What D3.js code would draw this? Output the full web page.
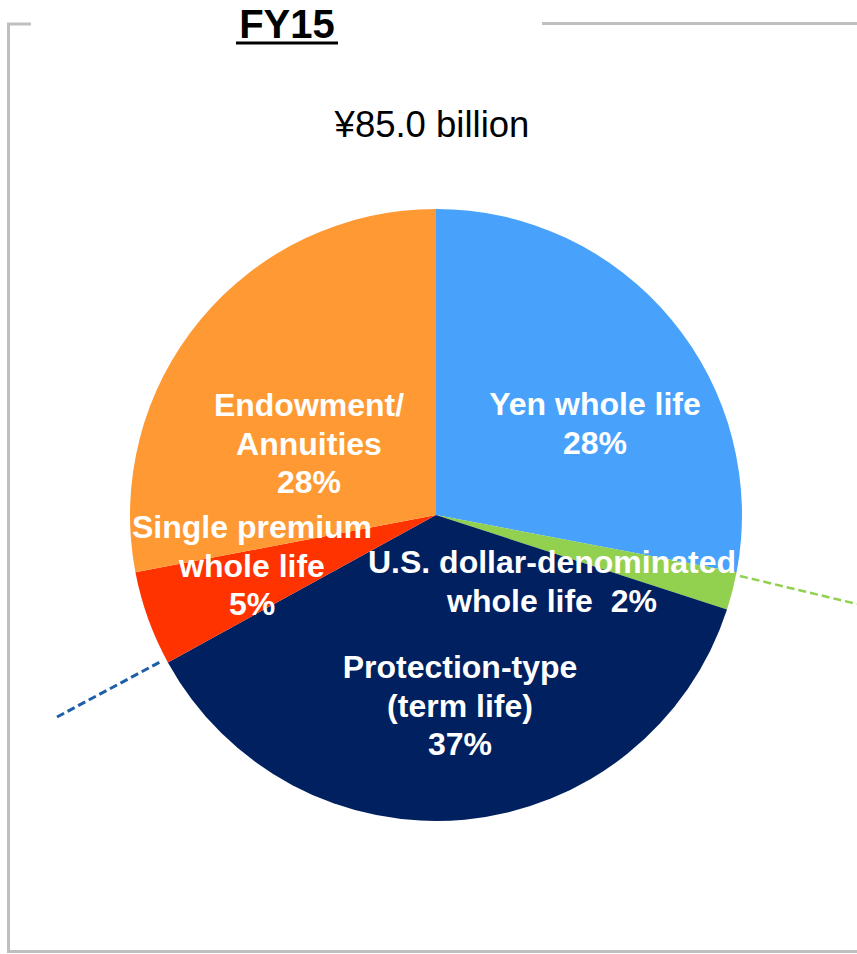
<!DOCTYPE html>
<html>
<head>
<meta charset="utf-8">
<script src="https://cdn.jsdelivr.net/npm/d3@7"></script>
<style>
  html, body { margin: 0; padding: 0; background: #fff; }
  svg { display: block; font-family: "Liberation Sans", Arial, sans-serif; }
</style>
</head>
<body>
<svg id="chart" width="857" height="954"></svg>
<script>
// Product mix of new business, FY15 (share of ¥85.0 billion)
const categories = ["Yen whole life", "U.S. dollar-denominated whole life", "Protection-type (term life)", "Single premium whole life", "Endowment/Annuities"];
const shares = [28, 2, 37, 5, 28];
const colors = ["#48a2fc", "#92d050", "#002060", "#ff3300", "#ff9933"];
const labelLines = [
  ["Yen whole life", "28%"],
  ["U.S. dollar-denominated", "whole life  2%"],
  ["Protection-type", "(term life)", "37%"],
  ["Single premium", "whole life", "5%"],
  ["Endowment/", "Annuities", "28%"]
];
// label anchor (first line baseline) relative to the pie centre
const labelPos = [[159, -100], [116, 58], [24, 163], [-184, 23], [-127, -99]];
const title = "FY15";
const subtitle = "¥85.0 billion";

const svg = d3.select("#chart");
const cx = 436, cy = 515, r = 306;

// frame
const frame = svg.append("g").attr("stroke", "#bfbfbf").attr("stroke-width", 3).attr("fill", "none");
frame.append("path").attr("d", "M31,24 H8.5 V951.5 H857");
frame.append("path").attr("d", "M542,23.5 H857");

// title
svg.append("text").attr("x", 287).attr("y", 38).attr("text-anchor", "middle")
  .attr("font-size", 40).attr("font-weight", "bold").attr("fill", "#000").text(title);
svg.append("line").attr("x1", 236).attr("x2", 338).attr("y1", 43).attr("y2", 43)
  .attr("stroke", "#000").attr("stroke-width", 3);

svg.append("text").attr("x", 432).attr("y", 137).attr("text-anchor", "middle")
  .attr("font-size", 36.5).attr("fill", "#000").text(subtitle);

// leader lines
svg.append("line").attr("x1", 740).attr("y1", 576).attr("x2", 857).attr("y2", 604)
  .attr("stroke", "#92d050").attr("stroke-width", 2.5).attr("stroke-dasharray", "8,4");
svg.append("line").attr("x1", 57).attr("y1", 717).attr("x2", 160).attr("y2", 662)
  .attr("stroke", "#1f5fa8").attr("stroke-width", 3).attr("stroke-dasharray", "8,4");

// pie
const pie = d3.pie().sort(null).value(d => d);
const arc = d3.arc().innerRadius(0).outerRadius(r);
const g = svg.append("g").attr("transform", `translate(${cx},${cy})`);
g.selectAll("path").data(pie(shares)).join("path")
  .attr("d", arc).attr("fill", (d, i) => colors[i]);

// labels
const lab = g.append("g").attr("fill", "#fff").attr("font-weight", "bold").attr("font-size", 32)
  .attr("text-anchor", "middle");
labelLines.forEach((lines, i) => {
  const t = lab.append("text").attr("x", labelPos[i][0]).attr("y", labelPos[i][1]);
  lines.forEach((s, j) => {
    t.append("tspan").attr("x", labelPos[i][0]).attr("dy", j === 0 ? 0 : 38.7)
      .attr("xml:space", "preserve").style("white-space", "pre").text(s);
  });
});
</script>
</body>
</html>
